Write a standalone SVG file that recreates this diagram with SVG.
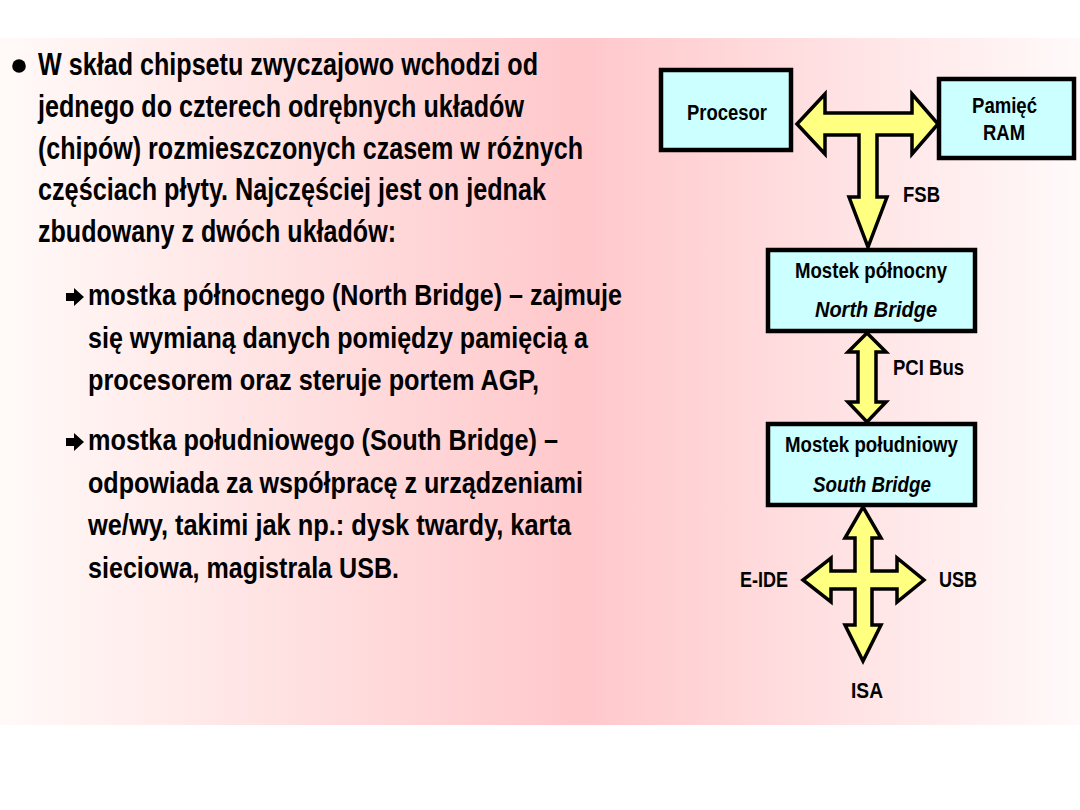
<svg xmlns="http://www.w3.org/2000/svg" width="1080" height="810" viewBox="0 0 1080 810">
<defs>
<linearGradient id="bg" x1="0" y1="0" x2="1" y2="0">
<stop offset="0" stop-color="#FFFAF8"/>
<stop offset="0.54" stop-color="#FFC8CB"/>
<stop offset="1" stop-color="#FFFAFA"/>
</linearGradient>
<style>
.t{font-family:"Liberation Sans",Arial,sans-serif;font-weight:bold;fill:#000}
.main{font-size:31px}
.sub{font-size:30px}
.lbl{font-size:22px}
.it{font-style:italic}
.box{fill:#CCFFFF;stroke:#000;stroke-width:4.5}
.arr{fill:#FFFF80;stroke:#000;stroke-width:3.5;stroke-linejoin:miter}
</style>
</defs>
<rect x="0" y="0" width="1080" height="810" fill="#FFFFFF"/>
<rect x="0" y="38" width="1080" height="687" fill="url(#bg)"/>

<g id="text">
<circle cx="19" cy="66" r="6.8" fill="#000"/>
<text class="t main" x="38" y="75" textLength="500" lengthAdjust="spacingAndGlyphs">W skład chipsetu zwyczajowo wchodzi od</text>
<text class="t main" x="38" y="117" textLength="486" lengthAdjust="spacingAndGlyphs">jednego do czterech odrębnych układów</text>
<text class="t main" x="38" y="158.5" textLength="545" lengthAdjust="spacingAndGlyphs">(chipów) rozmieszczonych czasem w różnych</text>
<text class="t main" x="38" y="200" textLength="508" lengthAdjust="spacingAndGlyphs">częściach płyty. Najczęściej jest on jednak</text>
<text class="t main" x="38" y="242" textLength="358" lengthAdjust="spacingAndGlyphs">zbudowany z dwóch układów:</text>

<polygon points="66,293 74,293 74,288 84,297 74,306 74,301 66,301" fill="#000"/>
<text class="t sub" x="88" y="305" textLength="534" lengthAdjust="spacingAndGlyphs">mostka północnego (North Bridge) – zajmuje</text>
<text class="t sub" x="88" y="347.5" textLength="500" lengthAdjust="spacingAndGlyphs">się wymianą danych pomiędzy pamięcią a</text>
<text class="t sub" x="88" y="390" textLength="451" lengthAdjust="spacingAndGlyphs">procesorem oraz steruje portem AGP,</text>

<polygon points="66,438 74,438 74,433 84,442 74,451 74,446 66,446" fill="#000"/>
<text class="t sub" x="88" y="450" textLength="470" lengthAdjust="spacingAndGlyphs">mostka południowego (South Bridge) –</text>
<text class="t sub" x="88" y="492.5" textLength="495" lengthAdjust="spacingAndGlyphs">odpowiada za współpracę z urządzeniami</text>
<text class="t sub" x="88" y="535" textLength="483" lengthAdjust="spacingAndGlyphs">we/wy, takimi jak np.: dysk twardy, karta</text>
<text class="t sub" x="88" y="577.5" textLength="311" lengthAdjust="spacingAndGlyphs">sieciowa, magistrala USB.</text>
</g>

<g id="connectors">
<polygon class="arr" points="797,124 825,94 825,113 912,113 912,94 938,124 912,154 912,135 877,135 877,197 887,197 868,247 849,197 859,197 859,135 825,135 825,154"/>
<polygon class="arr" points="867,333 886,352 876,352 876,402 886,402 867,422 848,402 858,402 858,352 848,352"/>
<polygon class="arr" points="863,507 881,538 872,538 872,571 897,571 897,558 924,580 897,602 897,589 872,589 872,625 881,625 863,661 845,625 855,625 855,589 831,589 831,602 803,580 831,558 831,571 855,571 855,538 845,538"/>
<text class="t lbl" x="903" y="202" textLength="37" lengthAdjust="spacingAndGlyphs">FSB</text>
<text class="t lbl" x="893" y="375" textLength="71" lengthAdjust="spacingAndGlyphs">PCI Bus</text>
<text class="t lbl" x="740" y="587" textLength="48" lengthAdjust="spacingAndGlyphs">E-IDE</text>
<text class="t lbl" x="939" y="587" textLength="38" lengthAdjust="spacingAndGlyphs">USB</text>
<text class="t lbl" x="851" y="698" textLength="32" lengthAdjust="spacingAndGlyphs">ISA</text>
</g>

<g id="procesor">
<rect class="box" x="661" y="70" width="130" height="80"/>
<text class="t lbl" x="687" y="120" textLength="80" lengthAdjust="spacingAndGlyphs">Procesor</text>
</g>
<g id="ram">
<rect class="box" x="939" y="79" width="135" height="79"/>
<text class="t lbl" x="972" y="113" textLength="65" lengthAdjust="spacingAndGlyphs">Pamięć</text>
<text class="t lbl" x="983" y="140" textLength="42" lengthAdjust="spacingAndGlyphs">RAM</text>
</g>
<g id="northbridge">
<rect class="box" x="768" y="250" width="207" height="81"/>
<text class="t lbl" x="795" y="278" textLength="152" lengthAdjust="spacingAndGlyphs">Mostek północny</text>
<text class="t lbl it" x="815" y="317" textLength="122" lengthAdjust="spacingAndGlyphs">North Bridge</text>
</g>
<g id="southbridge">
<rect class="box" x="768" y="424" width="207" height="81"/>
<text class="t lbl" x="785" y="452" textLength="173" lengthAdjust="spacingAndGlyphs">Mostek południowy</text>
<text class="t lbl it" x="813" y="492" textLength="118" lengthAdjust="spacingAndGlyphs">South Bridge</text>
</g>
</svg>
